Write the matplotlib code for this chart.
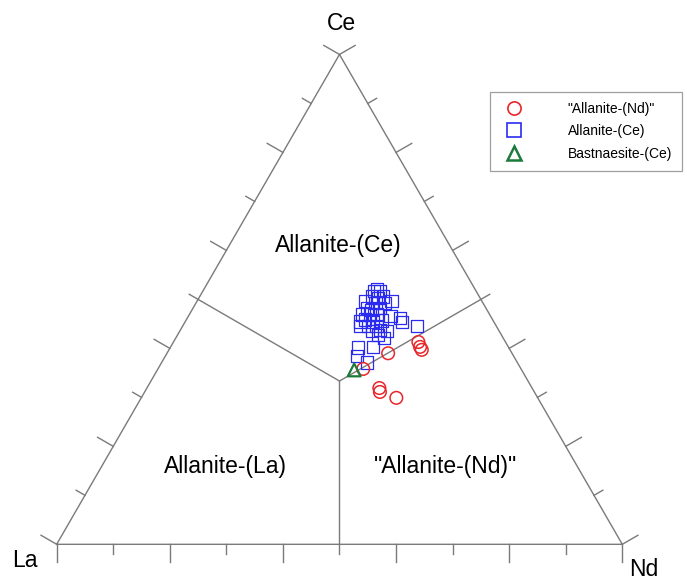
import numpy as np
import matplotlib
matplotlib.use("Agg")
import matplotlib.pyplot as plt
from matplotlib.lines import Line2D

plt.rcParams['font.family'] = ['Liberation Sans', 'DejaVu Sans']

# ternary compositions in percent (Ce, La, Nd)
nd_allanite_ce = [35.8, 39.0, 41.3, 40.3, 39.7, 31.9, 31.1, 29.9]
nd_allanite_la = [27.9, 21.9, 15.4, 15.6, 15.6, 27.0, 27.3, 25.0]
nd_allanite_nd = [36.3, 39.1, 43.3, 44.1, 44.7, 41.1, 41.6, 45.1]

ce_allanite_ce = [51.7, 51.7, 52.0, 50.6, 50.6, 50.3, 49.6, 49.6, 49.3, 49.3,
                  48.2, 48.2, 47.9, 46.9, 46.9, 46.9, 46.6, 46.2, 45.4, 45.5,
                  45.9, 45.5, 45.7, 44.5, 44.5, 44.5, 43.8, 43.5, 43.5, 42.7,
                  44.5, 42.1, 40.3, 40.2, 38.4, 37.1]
ce_allanite_nd = [30.2, 31.3, 30.6, 30.4, 32.4, 31.7, 34.4, 29.7, 31.7, 33.4,
                  30.7, 33.0, 31.7, 30.5, 32.0, 33.1, 35.7, 37.6, 38.3, 30.9,
                  31.6, 33.2, 34.6, 31.4, 32.8, 34.3, 35.3, 36.6, 34.0, 35.5,
                  41.4, 36.8, 35.8, 33.2, 33.9, 36.3]
ce_allanite_la = [100 - c - n for c, n in zip(ce_allanite_ce, ce_allanite_nd)]

bast_ce = [35.6]
bast_la = [29.6]
bast_nd = [34.8]

legend_labels = ['"Allanite-(Nd)"', 'Allanite-(Ce)', 'Bastnaesite-(Ce)']
region_labels = ['Allanite-(Ce)', 'Allanite-(La)', '"Allanite-(Nd)"']

H = np.sqrt(3) / 2


def tern(ce, la, nd):
    ce, la, nd = np.asarray(ce, float), np.asarray(la, float), np.asarray(nd, float)
    tot = ce + la + nd
    ce, nd = ce / tot, nd / tot
    return nd + ce / 2, ce * H


fig = plt.figure(figsize=(6.87, 5.80), dpi=100)
ax = fig.add_axes([0, 0, 1, 1])
ax.set_xlim(-0.1002, 1.1144)
ax.set_ylim(-0.0631, 0.9623)
ax.axis('off')

grey = '#7a7a7a'
red, blue, green = '#e8262a', '#2b2bf0', '#1c7a3c'
la_v = np.array([0.0, 0.0])
nd_v = np.array([1.0, 0.0])
ce_v = np.array([0.5, H])

# triangle outline
ax.plot([0, 1, 0.5, 0], [0, 0, H, 0], color=grey, lw=1.0, zorder=1)

# ticks, pointing outward
sides = [(la_v, nd_v, np.array([0.0, -1.0])),
         (la_v, ce_v, np.array([-H, 0.5])),
         (nd_v, ce_v, np.array([H, 0.5]))]
for a, b, nrm in sides:
    for i in range(11):
        p = a + (b - a) * i / 10
        ln = 0.032 if i % 2 == 0 else 0.018
        q = p + nrm * ln
        ax.plot([p[0], q[0]], [p[1], q[1]], color=grey, lw=1.0, zorder=1)

# field boundaries from centroid to side midpoints
cen = (la_v + nd_v + ce_v) / 3
for m in [(la_v + nd_v) / 2, (la_v + ce_v) / 2, (nd_v + ce_v) / 2]:
    ax.plot([cen[0], m[0]], [cen[1], m[1]], color=grey, lw=1.0, zorder=1)

# data
x, y = tern(ce_allanite_ce, ce_allanite_la, ce_allanite_nd)
ax.scatter(x, y, marker='s', s=78, facecolors='none',
           edgecolors=blue, linewidths=0.9, zorder=2)
x, y = tern(nd_allanite_ce, nd_allanite_la, nd_allanite_nd)
ax.scatter(x, y, marker='o', s=82, facecolors='none',
           edgecolors=red, linewidths=1.1, zorder=3)
x, y = tern(bast_ce, bast_la, bast_nd)
ax.scatter(x, y, marker='^', s=85, facecolors='none',
           edgecolors=green, linewidths=1.6, zorder=4)

# vertex labels
ax.text(0.5027, 0.9199, 'Ce', fontsize=16.5, ha='center', va='center')
ax.text(-0.056, -0.0295, 'La', fontsize=16.5, ha='center', va='center')
ax.text(1.0384, -0.044, 'Nd', fontsize=16.5, ha='center', va='center')

# field labels
ax.text(0.4973, 0.5274, region_labels[0], fontsize=16.5, ha='center', va='center')
ax.text(0.2976, 0.1367, region_labels[1], fontsize=16.5, ha='center', va='center')
ax.text(0.6866, 0.1367, region_labels[2], fontsize=16.5, ha='center', va='center')

handles = [Line2D([], [], ls='none', marker='o', ms=9.5, mfc='none', mec=red, mew=1.2),
           Line2D([], [], ls='none', marker='s', ms=9.5, mfc='none', mec=blue, mew=1.2),
           Line2D([], [], ls='none', marker='^', ms=9.5, mfc='none', mec=green, mew=1.8)]
leg = ax.legend(handles, legend_labels, loc='upper left',
                bbox_to_anchor=(490 / 687, 1 - 92 / 580),
                bbox_transform=fig.transFigure, fontsize=10,
                frameon=True, fancybox=False, borderpad=0.7,
                handlelength=2.0, handletextpad=2.9, labelspacing=0.62,
                borderaxespad=0, numpoints=1)
leg.get_frame().set_edgecolor('#888888')
leg.get_frame().set_linewidth(0.9)

fig.savefig('out.png', dpi=100)
